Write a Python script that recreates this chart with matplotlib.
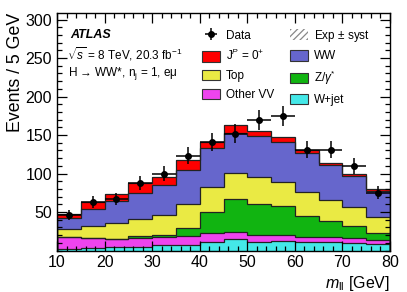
import numpy as np
import matplotlib
matplotlib.use('Agg')
import matplotlib.pyplot as plt
import matplotlib.ticker as ticker
import matplotlib.patches as mpatches

plt.rcParams['font.family'] = ['Liberation Sans', 'DejaVu Sans']
plt.rcParams['mathtext.fontset'] = 'custom'
plt.rcParams['mathtext.rm'] = 'Liberation Sans'
plt.rcParams['mathtext.it'] = 'Liberation Sans:italic'
plt.rcParams['mathtext.bf'] = 'Liberation Sans:bold'
plt.rcParams['hatch.color'] = '#555555'
plt.rcParams['hatch.linewidth'] = 0.9

# m_ll bins [GeV]
edges = np.arange(10, 81, 5)

# stacked contributions per bin (events / 5 GeV), bottom to top
wjet    = [2.0, 3.7, 4.1, 5.0, 6.7, 7.1, 11.5, 14.5, 10.6, 12.7, 10.6, 11.5, 10.2, 8.4]
otherVV = [15.0, 12.1, 10.4, 11.7, 11.3, 11.7, 10.8, 9.1, 9.1, 7.4, 6.5, 6.5, 5.6, 5.2]
zgamma  = [0.5, 0.5, 0.5, 1.7, 1.7, 10.8, 27.3, 42.9, 40.7, 37.7, 28.1, 19.9, 16.0, 8.7]
top     = [10.0, 15.5, 20.3, 22.9, 26.8, 30.4, 32.9, 34.5, 34.6, 31.6, 31.2, 27.7, 25.1, 20.7]
ww      = [14.3, 22.1, 28.6, 33.7, 38.5, 44.5, 50.2, 51.2, 53.7, 51.9, 49.8, 45.0, 39.9, 33.8]
signal  = [5.6, 9.1, 9.9, 13.0, 10.8, 13.0, 8.6, 10.8, 6.9, 5.7, 4.3, 2.6, 2.6, 2.7]
syst    = [3.0, 3.0, 3.5, 3.0, 5.0, 5.0, 10.5, 11.0, 11.0, 11.5, 9.5, 8.5, 7.5, 5.5]

data    = [46, 63, 67, 88, 100, 123, 141, 152, 169, 175, 131, 131, 110, 75]

components = [
    (wjet,    '#44e8e8', 'W+jet'),
    (otherVV, '#ee44ee', 'Other VV'),
    (zgamma,  '#11b411', r'Z/$\gamma^{*}$'),
    (top,     '#eaea44', 'Top'),
    (ww,      '#6666cc', 'WW'),
    (signal,  '#ff0000', r'J$^{P}$ = 0$^{+}$'),
]

fig = plt.figure(figsize=(4.07, 2.92), dpi=100)
ax = fig.add_axes([57/407, 1-250.5/292, 333/407, 237.8/292])

cum = np.cumsum([np.array(c[0]) for c in components], axis=0)
patches = {}
for i in range(len(components)-1, -1, -1):
    vals, col, lab = components[i]
    ax.stairs(cum[i], edges, fill=True, color=col, zorder=1)
    patches[lab] = mpatches.Patch(facecolor=col, edgecolor='#333333', linewidth=0.8, label=lab)
for i in range(len(components)):
    ax.stairs(cum[i], edges, color='#222222', lw=0.9, zorder=1.5)

total = cum[-1]
syst = np.array(syst)
lo = np.append(total - syst, (total - syst)[-1])
hi = np.append(total + syst, (total + syst)[-1])
ax.fill_between(edges, lo, hi, step='post', facecolor='none', edgecolor='none',
                hatch='/////', linewidth=0, zorder=2)
hatch_patch = mpatches.Patch(facecolor='white', edgecolor='#888888', hatch='/////',
                             linewidth=0, label=r'Exp $\pm$ syst')

centers = 0.5*(edges[:-1] + edges[1:])
data = np.array(data)
eb = ax.errorbar(centers, data, xerr=2.5, yerr=np.sqrt(data), fmt='o', color='black',
                 markersize=4, elinewidth=1.1, capsize=0, zorder=3, label='Data')

ax.set_xlim(10, 80)
ax.set_ylim(0, 309)
ax.xaxis.set_major_locator(ticker.MultipleLocator(10))
ax.xaxis.set_minor_locator(ticker.MultipleLocator(2))
ax.yaxis.set_major_locator(ticker.FixedLocator([50, 100, 150, 200, 250, 300]))
ax.yaxis.set_minor_locator(ticker.MultipleLocator(10))
ax.tick_params(which='both', direction='in', top=True, right=True, labelsize=11.5)
ax.tick_params(which='major', length=7, width=0.9)
ax.tick_params(which='minor', length=3.5, width=0.9)
ax.tick_params(axis='x', which='major', pad=3)
for s in ax.spines.values():
    s.set_linewidth(1.0)

ax.set_ylabel('Events / 5 GeV', fontsize=12.8, loc='top')
ax.yaxis.set_label_coords(-0.1, 1.0)
ax.set_xlabel(r'$m_{\mathrm{ll}}$ [GeV]', fontsize=11.5, ha='right')
ax.xaxis.set_label_coords(1.0, -0.1)

ax.text(70/407, 1-35/292, 'ATLAS', transform=fig.transFigure, fontsize=9,
        fontweight='bold', fontstyle='italic', va='center')
ax.text(67/407, 1-54/292, r'$\sqrt{s}$ = 8 TeV, 20.3 fb$^{-1}$', transform=fig.transFigure,
        fontsize=8.5, va='center')
ax.text(68/407, 1-74/292, 'H \u2192 WW*, n$_{\\mathrm{j}}$ = 1, e\u03bc',
        transform=fig.transFigure, fontsize=8.5, va='center')

handles = [eb, patches[r'J$^{P}$ = 0$^{+}$'], patches['Top'], patches['Other VV'],
           hatch_patch, patches['WW'], patches[r'Z/$\gamma^{*}$'], patches['W+jet']]
labels = ['Data', r'J$^{P}$ = 0$^{+}$', 'Top', 'Other VV',
          r'Exp $\pm$ syst', 'WW', r'Z/$\gamma^{*}$', 'W+jet']
leg = ax.legend(handles, labels, ncol=2, loc='upper left', bbox_to_anchor=(0.411, 0.972),
                frameon=False, fontsize=8.5, handlelength=1.5, handleheight=1.0,
                handletextpad=0.5, columnspacing=1.35, labelspacing=0.55, borderpad=0.2)

fig.savefig('out.png', dpi=100)
